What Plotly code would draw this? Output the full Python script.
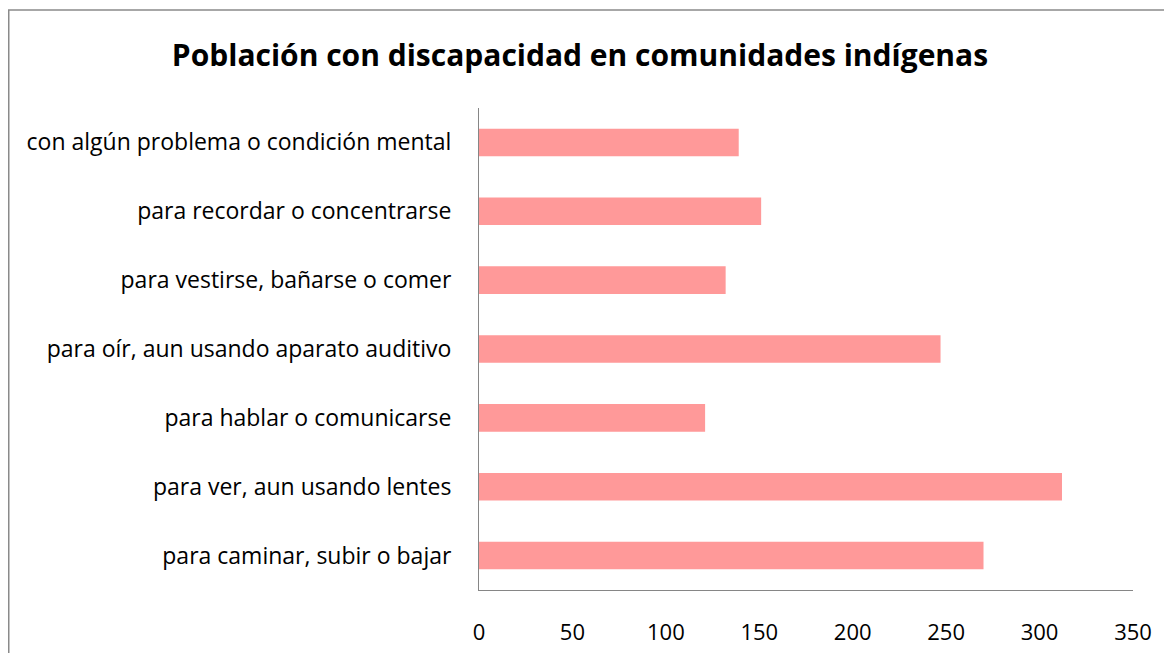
import plotly.graph_objects as go

categorias = [
    "para caminar, subir o bajar",
    "para ver, aun usando lentes",
    "para hablar o comunicarse",
    "para oír, aun usando aparato auditivo",
    "para vestirse, bañarse o comer",
    "para recordar o concentrarse",
    "con algún problema o condición mental",
]
poblacion = [270, 312, 121, 247, 132, 151, 139]
ticks_x = [0, 50, 100, 150, 200, 250, 300, 350]

fuente = "Open Sans"
gris = "#868686"

# la página añade 8 px de margen, así que la figura es 8 px más pequeña
W, H = 1164, 645
ml, mr, mt, mb = 471, 39, 100, 63
pw, ph = W - ml - mr, H - mt - mb

fig = go.Figure(go.Bar(
    x=poblacion,
    y=categorias,
    orientation="h",
    marker=dict(color="#FF9999", line=dict(width=0)),
))

fig.update_layout(
    width=W,
    height=H,
    margin=dict(l=ml, r=mr, t=mt, b=mb),
    paper_bgcolor="white",
    plot_bgcolor="white",
    bargap=0.6,
    showlegend=False,
    font=dict(family=fuente, size=22, color="black"),
    title=dict(
        text="<b>Población con discapacidad en comunidades indígenas</b>",
        x=0.4914, xanchor="center",
        y=0.927, yanchor="middle",
        font=dict(family=fuente, size=30, color="black"),
    ),
)

fig.update_xaxes(
    range=[0, 350],
    tickvals=ticks_x,
    showgrid=False,
    zeroline=False,
    showline=True,
    linecolor=gris,
    linewidth=1,
    ticks="",
    ticklabelstandoff=23,
    automargin=False,
    tickfont=dict(family=fuente, size=22),
)
fig.update_yaxes(
    showgrid=False,
    zeroline=False,
    showline=True,
    linecolor=gris,
    linewidth=1,
    ticks="",
    ticklabelstandoff=22,
    automargin=False,
    tickfont=dict(family=fuente, size=23),
)

# marco del gráfico
fig.add_shape(
    type="rect", xref="paper", yref="paper",
    x0=(0.75 - ml) / pw, x1=(W - 1 - ml) / pw,
    y0=-0.3, y1=1 + (mt - 2) / ph,
    line=dict(color="#8a8a8a", width=1.5),
    fillcolor="rgba(0,0,0,0)",
    layer="below",
)

fig.write_html("out.html")
